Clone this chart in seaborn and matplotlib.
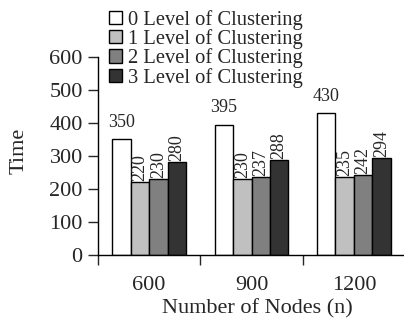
import matplotlib
matplotlib.use("Agg")
import matplotlib.pyplot as plt
import seaborn as sns
import pandas as pd

nodes = ["600", "900", "1200"]
levels = ["0 Level of Clustering", "1 Level of Clustering",
          "2 Level of Clustering", "3 Level of Clustering"]
level0 = [350, 395, 430]
level1 = [220, 230, 235]
level2 = [230, 237, 242]
level3 = [280, 288, 294]
colors = ["#ffffff", "#c0c0c0", "#808080", "#333333"]

rows = []
for lev, vals in zip(levels, [level0, level1, level2, level3]):
    for n, v in zip(nodes, vals):
        rows.append({"Nodes": n, "Level": lev, "Time": v})
df = pd.DataFrame(rows)

sns.set_style("ticks")
plt.rcParams["font.family"] = ["Liberation Serif", "DejaVu Serif"]

fig = plt.figure(figsize=(4.04, 3.18), dpi=100)
ax = fig.add_axes([0.2426, 0.199, 0.76, 0.622])
sns.barplot(data=df, x="Nodes", y="Time", hue="Level", order=nodes,
            hue_order=levels, palette=colors, width=0.72, edgecolor="black",
            linewidth=1.0, ax=ax, legend=False, saturation=1)

for i, cont in enumerate(ax.containers):
    for bar in cont:
        h = bar.get_height()
        xc = bar.get_x() + bar.get_width() / 2
        if i == 0:
            ax.text(xc, h + 25, f"{int(h)}", ha="center", va="bottom", fontsize=13)
        else:
            ax.text(xc, h + 3, f"{int(h)}", ha="center", va="bottom",
                    rotation=90, fontsize=13)

ax.set_ylim(0, 600)
ax.set_yticks([0, 100, 200, 300, 400, 500, 600])
ax.set_xlim(-0.5, 2.5)
ax.set_xticks([-0.5, 0.5, 1.5, 2.5])
ax.set_xticklabels([])
ax.set_xticks([0, 1, 2], minor=True)
ax.set_xticklabels(nodes, minor=True)
ax.tick_params(axis="x", which="minor", length=0, labelsize=16, pad=15)
ax.tick_params(axis="x", which="major", length=7, width=1, direction="out")
ax.tick_params(axis="y", length=7, width=1, direction="out", labelsize=16, pad=4)
for s in ["top", "right"]:
    ax.spines[s].set_visible(False)
for s in ["left", "bottom"]:
    ax.spines[s].set_linewidth(1)
    ax.spines[s].set_color("black")
ax.set_ylabel("Time", fontsize=16)
ax.yaxis.set_label_coords(-0.225, 0.525)
ax.set_xlabel("Number of Nodes (n)", fontsize=16)
ax.xaxis.set_label_coords(0.52, -0.225)

from matplotlib.patches import Patch
handles = [Patch(facecolor=c, edgecolor="black", linewidth=1) for c in colors]
fig.legend(handles, levels, loc="upper left", bbox_to_anchor=(0.25, 0.995),
           frameon=False, fontsize=14.8, handlelength=0.62, handleheight=0.62,
           handletextpad=0.3, labelspacing=-0.03, borderaxespad=0)

fig.savefig("out.png", dpi=100)
